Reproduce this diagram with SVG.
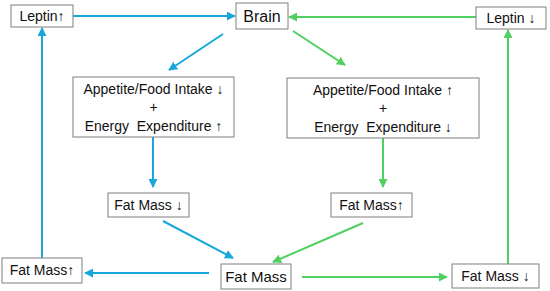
<svg xmlns="http://www.w3.org/2000/svg" width="550" height="291" viewBox="0 0 550 291">
<defs>
<style>
.box{fill:#fff;stroke:#7f7f7f;stroke-width:1}
.t{font-family:"Liberation Sans",Arial,sans-serif;font-size:14px;fill:#111;text-anchor:middle;white-space:pre}
.b{stroke:#19a7db;stroke-width:2;fill:none}
.g{stroke:#4fd060;stroke-width:2;fill:none}
</style>
<marker id="ab" viewBox="0 0 10 10" refX="9" refY="5" markerWidth="4.5" markerHeight="4.5" orient="auto" markerUnits="strokeWidth"><path d="M0,0 L10,5 L0,10 z" fill="#19a7db"/></marker>
<marker id="ag" viewBox="0 0 10 10" refX="9" refY="5" markerWidth="4.5" markerHeight="4.5" orient="auto" markerUnits="strokeWidth"><path d="M0,0 L10,5 L0,10 z" fill="#4fd060"/></marker>
</defs>
<rect width="550" height="291" fill="#fff"/>
<g id="connectors">
<line class="b" x1="73" y1="16" x2="235" y2="16" marker-end="url(#ab)"/>
<line class="g" x1="476" y1="17" x2="289" y2="17" marker-end="url(#ag)"/>
<line class="b" x1="223" y1="34" x2="169" y2="70" marker-end="url(#ab)"/>
<line class="g" x1="293" y1="31" x2="345" y2="65" marker-end="url(#ag)"/>
<line class="b" x1="153" y1="137" x2="153" y2="187" marker-end="url(#ab)"/>
<line class="g" x1="383" y1="138" x2="383" y2="187" marker-end="url(#ag)"/>
<line class="b" x1="163" y1="221" x2="233" y2="258" marker-end="url(#ab)"/>
<line class="g" x1="363" y1="223" x2="273" y2="262" marker-end="url(#ag)"/>
<line class="b" x1="209" y1="273" x2="85" y2="273" marker-end="url(#ab)"/>
<line class="g" x1="302" y1="277" x2="447" y2="277" marker-end="url(#ag)"/>
<line class="b" x1="42" y1="258" x2="42" y2="28" marker-end="url(#ab)"/>
<line class="g" x1="508" y1="264" x2="508" y2="30" marker-end="url(#ag)"/>
</g>
<g id="leptin-up"><rect class="box" x="11" y="5" width="62" height="22"/><text class="t" x="42" y="21">Leptin↑</text></g>
<g id="brain"><rect class="box" x="236" y="3" width="52" height="26"/><text class="t" x="262" y="22" style="font-size:16px">Brain</text></g>
<g id="leptin-down"><rect class="box" x="476" y="7" width="70" height="22"/><text class="t" x="511" y="23">Leptin ↓</text></g>
<g id="appetite-left"><rect class="box" x="73" y="77" width="161" height="60"/>
<text class="t" x="153.5" y="94">Appetite/Food Intake ↓</text>
<text class="t" x="153.5" y="112">+</text>
<text class="t" x="153.5" y="131" xml:space="preserve">Energy  Expenditure ↑</text></g>
<g id="appetite-right"><rect class="box" x="287" y="78" width="192" height="60"/>
<text class="t" x="383" y="95">Appetite/Food Intake ↑</text>
<text class="t" x="383" y="113">+</text>
<text class="t" x="383" y="132" xml:space="preserve">Energy  Expenditure ↓</text></g>
<g id="fatmass-down-left"><rect class="box" x="108" y="193" width="81" height="24"/><text class="t" x="148.5" y="210">Fat Mass ↓</text></g>
<g id="fatmass-up-right"><rect class="box" x="331" y="193" width="81" height="24"/><text class="t" x="371.5" y="210">Fat Mass↑</text></g>
<g id="fatmass-up-left"><rect class="box" x="2" y="258" width="80" height="25"/><text class="t" x="42" y="275">Fat Mass↑</text></g>
<g id="fatmass"><rect class="box" x="221" y="264" width="70" height="25"/><text class="t" x="256" y="282" style="font-size:15px">Fat Mass</text></g>
<g id="fatmass-down-right"><rect class="box" x="452" y="264" width="87" height="24"/><text class="t" x="495.5" y="281">Fat Mass ↓</text></g>
</svg>
